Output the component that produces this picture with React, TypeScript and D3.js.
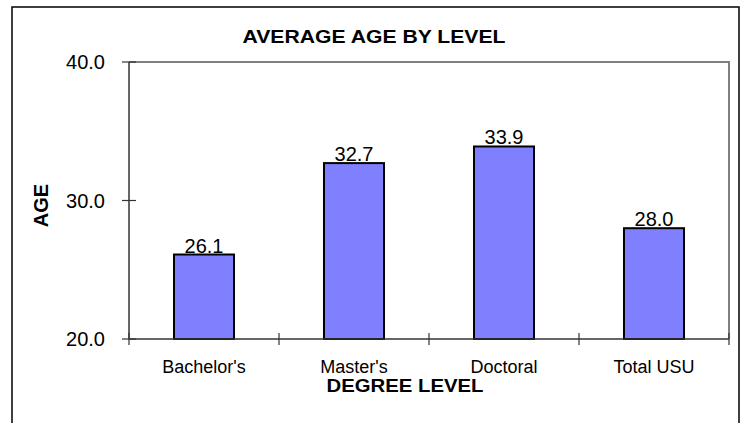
import React from 'react';
import {scaleBand, scaleLinear, format} from 'd3';

// data
const categories = ["Bachelor's", "Master's", 'Doctoral', 'Total USU'];
const averageAge = [26.1, 32.7, 33.9, 28.0];
const yTicks = [20, 30, 40];

const FONT = "'Liberation Sans', Arial, sans-serif";

function App() {
    const W = 743, H = 423;
    const plot = {left: 129, right: 729, top: 62, bottom: 339};

    const x = scaleBand<string>()
        .domain(categories)
        .range([plot.left, plot.right]);
    const y = scaleLinear()
        .domain([20, 40])
        .range([plot.bottom, plot.top]);
    const fmt = format('.1f');
    const barW = x.bandwidth() * 0.4;
    const boundaries = [...categories.map(c => x(c) as number), plot.right];

    return (
        <svg width={W} height={H} style={{position: 'absolute', left: 0, top: 0, background: '#fff'}}
             fontFamily={FONT}>
            {/* outer chart frame, runs off the bottom of the image */}
            <rect x={12} y={7} width={727} height={440} fill='#fff' stroke='#000' strokeWidth={1.5}/>

            <text x={374} y={43} textAnchor='middle' fontSize={19} fontWeight='bold'
                  textLength={263} lengthAdjust='spacingAndGlyphs'>AVERAGE AGE BY LEVEL</text>

            {/* plot area top/right border */}
            <path d={`M${plot.left},${plot.top}H${plot.right}V${plot.bottom}`} fill='none' stroke='#808080' strokeWidth={2}/>

            {/* bars */}
            {categories.map((c, i) => {
                const cx = (x(c) as number) + x.bandwidth() / 2;
                return (
                    <g key={c}>
                        <rect x={cx - barW / 2} y={y(averageAge[i])} width={barW}
                              height={plot.bottom - y(averageAge[i])}
                              fill='#8080ff' stroke='#000' strokeWidth={2}/>
                        <text x={cx} y={y(averageAge[i]) - 2} textAnchor='middle' fontSize={20}>
                            {fmt(averageAge[i])}
                        </text>
                    </g>
                );
            })}

            {/* y axis */}
            <line x1={plot.left} x2={plot.left} y1={plot.top} y2={plot.bottom} stroke='#333' strokeWidth={1.5}/>
            {yTicks.map(t => (
                <g key={t}>
                    <line x1={plot.left - 7} x2={plot.left + 7} y1={y(t)} y2={y(t)} stroke='#333' strokeWidth={1.2}/>
                    <text x={105} y={y(t)} dy='0.36em' textAnchor='end' fontSize={20}>{fmt(t)}</text>
                </g>
            ))}

            {/* x axis */}
            <line x1={plot.left} x2={plot.right} y1={plot.bottom} y2={plot.bottom} stroke='#333' strokeWidth={1.5}/>
            {boundaries.map((b, i) => (
                <line key={i} x1={b} x2={b} y1={plot.bottom - 6} y2={plot.bottom + 6} stroke='#333' strokeWidth={1.2}/>
            ))}
            {categories.map(c => (
                <text key={c} x={(x(c) as number) + x.bandwidth() / 2} y={373} textAnchor='middle' fontSize={18}>{c}</text>
            ))}

            <text x={405} y={392} textAnchor='middle' fontSize={19} fontWeight='bold'
                  textLength={157} lengthAdjust='spacingAndGlyphs'>DEGREE LEVEL</text>
            <text transform='translate(48,205.5) rotate(-90)' textAnchor='middle' fontSize={20} fontWeight='bold'>AGE</text>
        </svg>
    );
}

export default App;
